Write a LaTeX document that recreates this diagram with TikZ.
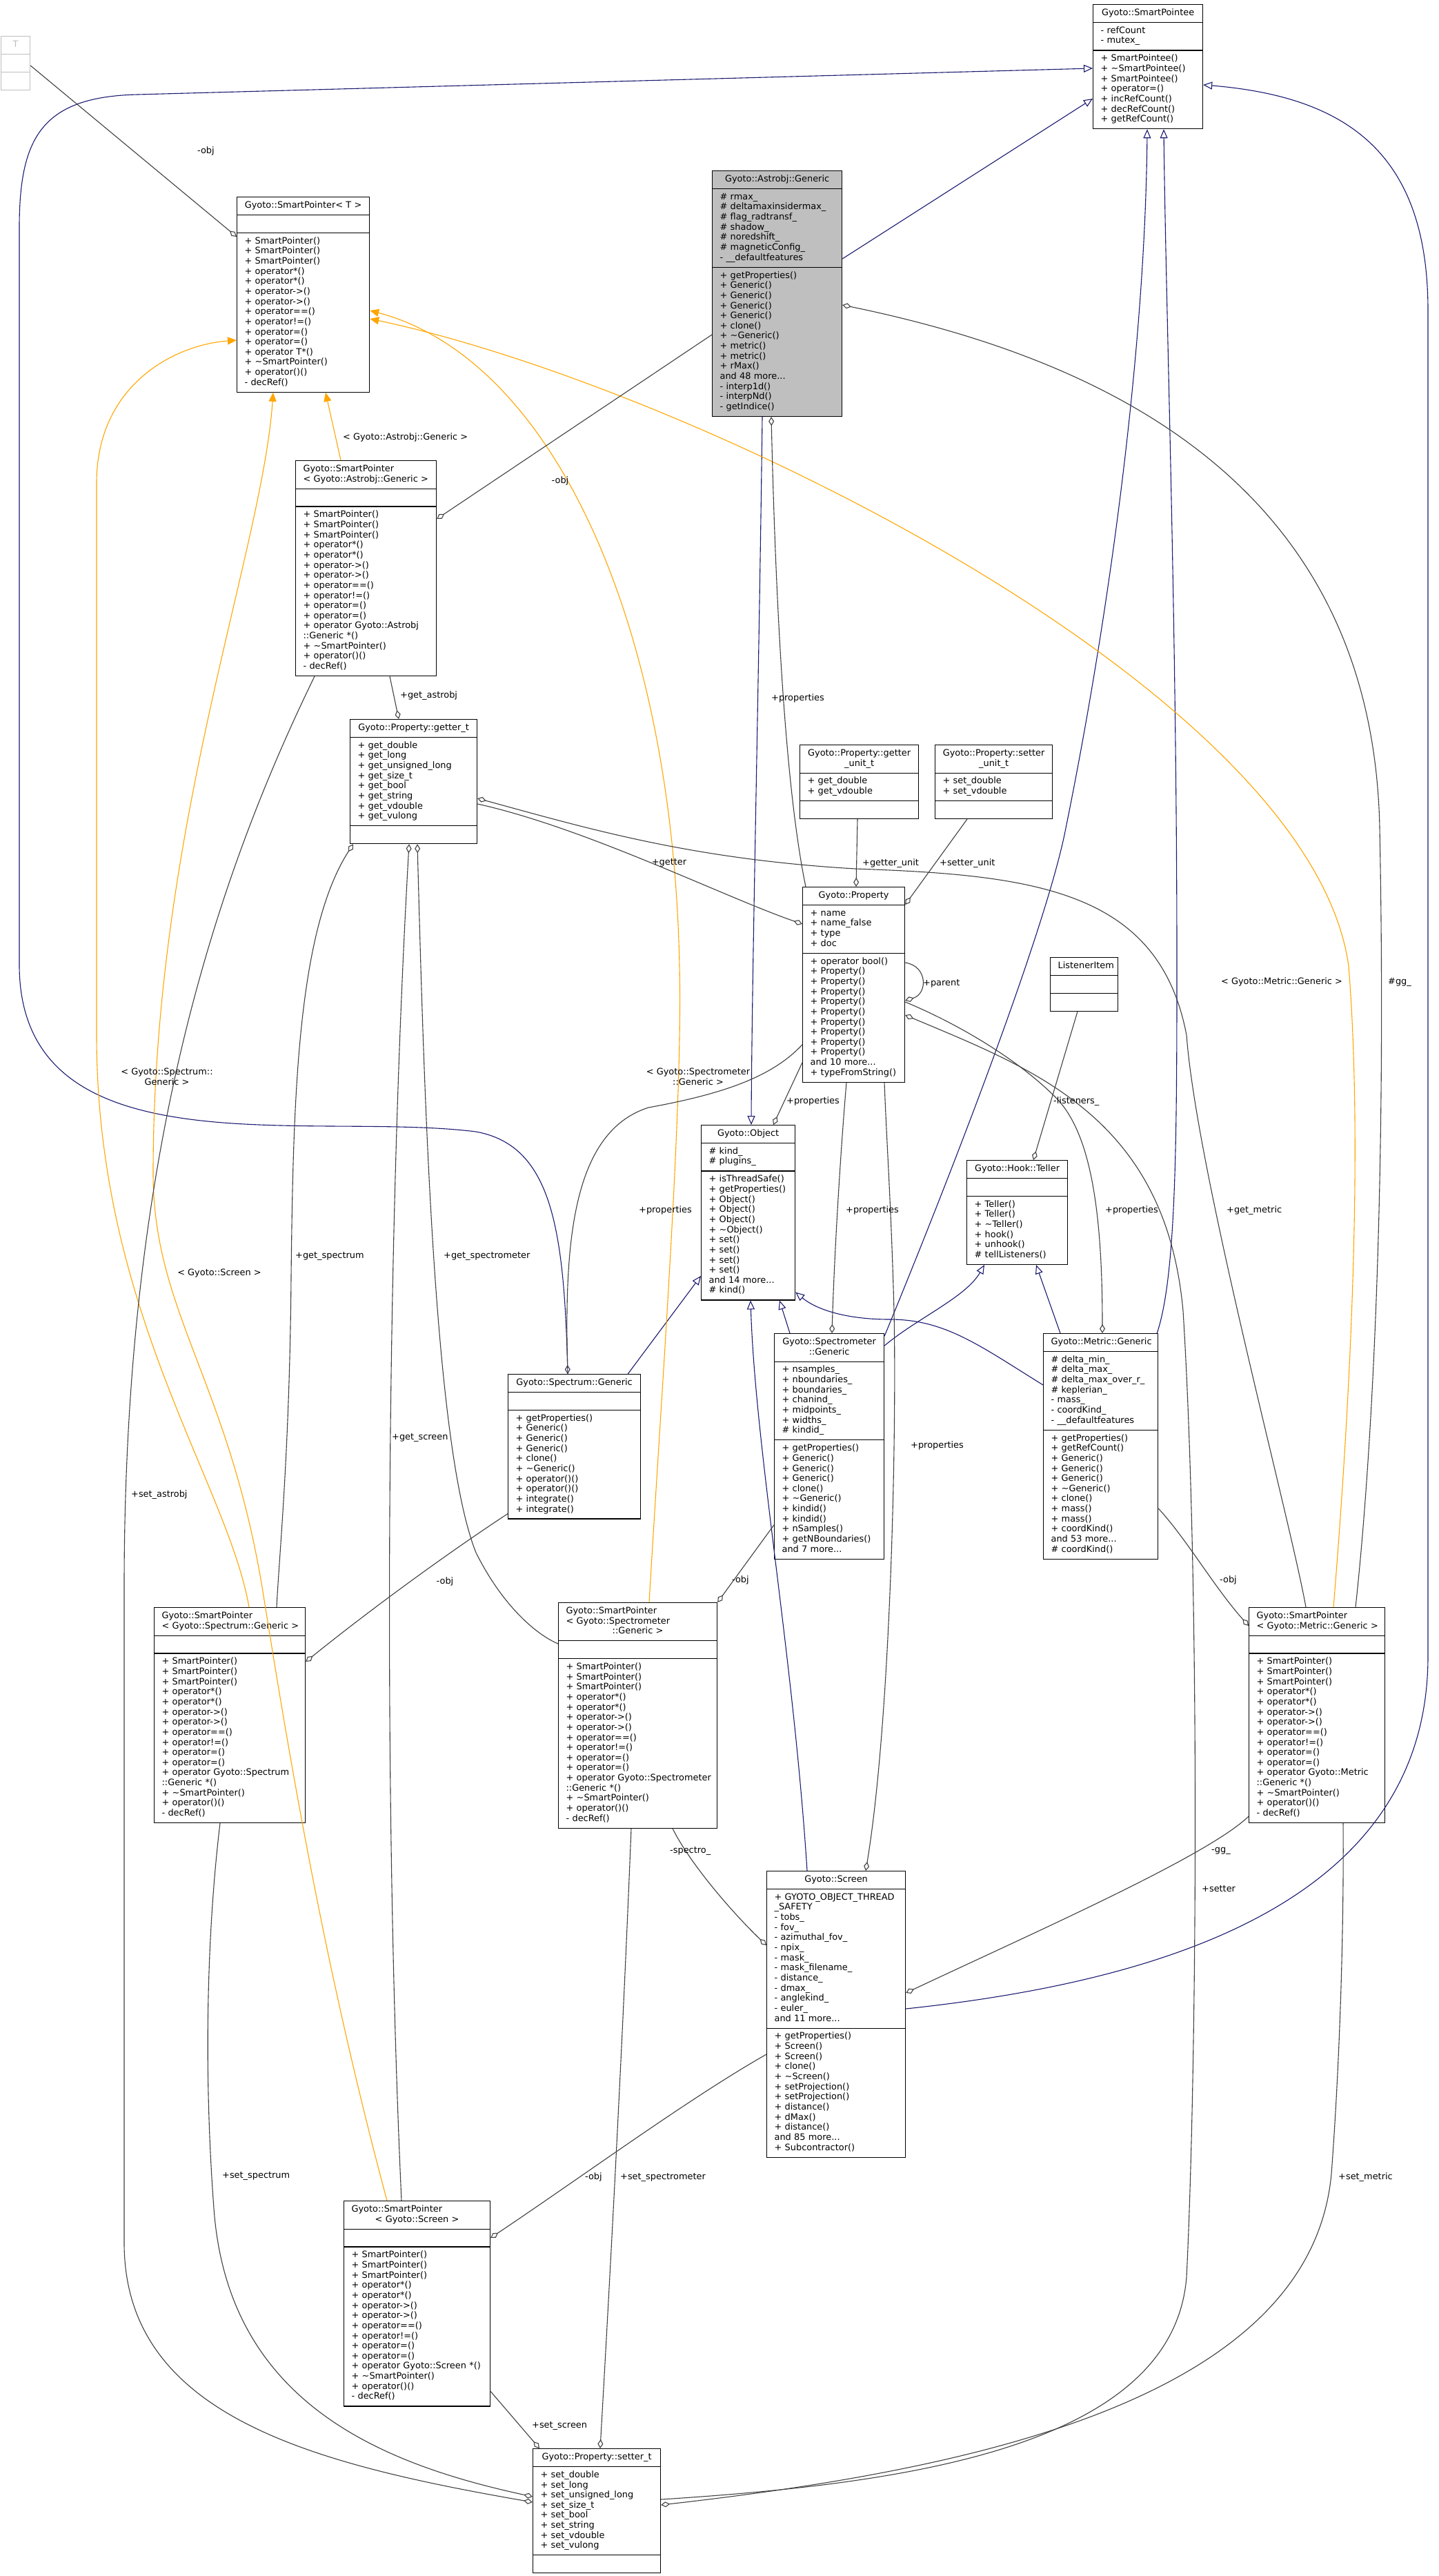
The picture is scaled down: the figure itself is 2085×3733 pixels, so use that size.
\documentclass[tikz,border=0pt]{standalone}
\usepackage{fontspec}
\setmainfont{DejaVu Sans}
\usetikzlibrary{calc, arrows.meta, shapes.multipart}

\definecolor{inhblue}{HTML}{191970}
\definecolor{tplorange}{HTML}{FFA500}
\definecolor{usegray}{HTML}{404040}
\definecolor{hilite}{HTML}{BFBFBF}

\begin{document}
\begin{tikzpicture}[
    x=1pt, y=-1pt,
    cls/.style  = {draw=black, line width=1.2pt, rectangle split, rectangle split parts=3,
                   anchor=north west, inner xsep=11pt, inner ysep=5pt, font=\dxfont},
    inh/.style  = {draw=inhblue, line width=1.1pt, -{Triangle[open, length=13pt, width=11pt]}},
    tmpl/.style = {draw=tplorange, line width=1.1pt, -{Triangle[length=13pt, width=11pt]}},
    agg/.style  = {draw=usegray, line width=1.1pt, {Diamond[open, length=13pt, width=8pt]}-},
    lbl/.style  = {font=\dxfont, inner sep=0pt, anchor=west},
  ]

  % ---------- 参数 ----------
  \def\dxfont{\fontsize{12.9pt}{14.65pt}\selectfont}
  \def\pc{\parindent=0pt\centering}
  \def\pl{\parindent=0pt\raggedright\rightskip=0pt plus 1fil minus 40pt\relax}
  % 类框：选项, 名字, x, y, 宽, 标题, 属性, 方法
  \def\umlcls#1#2#3#4#5#6#7#8{%
    \pgfmathsetmacro{\clsw}{#5-22}%
    \node[cls, text width=\clsw pt, #1] (#2) at (#3,#4)
      {\pc\strut #6\strut\par\nodepart{two}\pl\strut #7\strut\par\nodepart{three}\pl\strut #8\strut\par};}
  \def\spbase{+ SmartPointer()\\+ SmartPointer()\\+ SmartPointer()\\+ operator*()\\+ operator*()\\%
    + operator->()\\+ operator->()\\+ operator==()\\+ operator!=()\\+ operator=()\\+ operator=()}
  \def\sptail{\\+ \textasciitilde SmartPointer()\\+ operator()()\\- decRef()}

  \useasboundingbox (0,0) rectangle (2085,3733);

  % ---------- 类框 ----------
  \umlcls{draw=hilite, text=hilite}{tpl}{1}{52}{42}{T}{}{}
  \umlcls{}{pointee}{1584}{6}{159}{Gyoto::SmartPointee}
    {- refCount\\- mutex\_}
    {+ SmartPointee()\\+ \textasciitilde SmartPointee()\\+ SmartPointee()\\+ operator=()\\+ incRefCount()\\+ decRefCount()\\+ getRefCount()}
  \umlcls{fill=hilite}{astro}{1032}{247}{188}{Gyoto::Astrobj::Generic}
    {\# rmax\_\\\# deltamaxinsidermax\_\\\# flag\_radtransf\_\\\# shadow\_\\\# noredshift\_\\\# magneticConfig\_\\- \_\_defaultfeatures}
    {+ getProperties()\\+ Generic()\\+ Generic()\\+ Generic()\\+ Generic()\\+ clone()\\+ \textasciitilde Generic()\\+ metric()\\+ metric()\\+ rMax()\\and 48 more...\\- interp1d()\\- interpNd()\\- getIndice()}
  \umlcls{}{spT}{343}{285}{192}{Gyoto::SmartPointer< T >}
    {}
    {\spbase\\+ operator T*()\sptail}
  \umlcls{}{spAstro}{428}{667}{204}{\pl Gyoto::SmartPointer\\< Gyoto::Astrobj::Generic >}
    {}
    {\spbase\\+ operator Gyoto::Astrobj\\::Generic *()\sptail}
  \umlcls{}{getter}{507}{1042}{184}{Gyoto::Property::getter\_t}
    {+ get\_double\\+ get\_long\\+ get\_unsigned\_long\\+ get\_size\_t\\+ get\_bool\\+ get\_string\\+ get\_vdouble\\+ get\_vulong}
    {}
  \umlcls{}{gunit}{1159}{1079}{172}{Gyoto::Property::getter\\\_unit\_t}
    {+ get\_double\\+ get\_vdouble}
    {}
  \umlcls{}{sunit}{1355}{1079}{170}{Gyoto::Property::setter\\\_unit\_t}
    {+ set\_double\\+ set\_vdouble}
    {}
  \umlcls{}{prop}{1163}{1285}{148}{Gyoto::Property}
    {+ name\\+ name\_false\\+ type\\+ doc}
    {+ operator bool()\\+ Property()\\+ Property()\\+ Property()\\+ Property()\\+ Property()\\+ Property()\\+ Property()\\+ Property()\\+ Property()\\and 10 more...\\+ typeFromString()}
  \umlcls{}{listener}{1522}{1387}{98}{ListenerItem}{}{}
  \umlcls{}{obj}{1016}{1630}{136}{Gyoto::Object}
    {\# kind\_\\\# plugins\_}
    {+ isThreadSafe()\\+ getProperties()\\+ Object()\\+ Object()\\+ Object()\\+ \textasciitilde Object()\\+ set()\\+ set()\\+ set()\\+ set()\\and 14 more...\\\# kind()}
  \umlcls{}{teller}{1401}{1681}{146}{Gyoto::Hook::Teller}
    {}
    {+ Teller()\\+ Teller()\\+ \textasciitilde Teller()\\+ hook()\\+ unhook()\\\# tellListeners()}
  \umlcls{}{spectrum}{736}{1991}{192}{Gyoto::Spectrum::Generic}
    {}
    {+ getProperties()\\+ Generic()\\+ Generic()\\+ Generic()\\+ clone()\\+ \textasciitilde Generic()\\+ operator()()\\+ operator()()\\+ integrate()\\+ integrate()}
  \umlcls{}{spectro}{1122}{1932}{159}{Gyoto::Spectrometer\\::Generic}
    {+ nsamples\_\\+ nboundaries\_\\+ boundaries\_\\+ chanind\_\\+ midpoints\_\\+ widths\_\\\# kindid\_}
    {+ getProperties()\\+ Generic()\\+ Generic()\\+ Generic()\\+ clone()\\+ \textasciitilde Generic()\\+ kindid()\\+ kindid()\\+ nSamples()\\+ getNBoundaries()\\and 7 more...}
  \umlcls{}{metric}{1512}{1932}{166}{Gyoto::Metric::Generic}
    {\# delta\_min\_\\\# delta\_max\_\\\# delta\_max\_over\_r\_\\\# keplerian\_\\- mass\_\\- coordKind\_\\- \_\_defaultfeatures}
    {+ getProperties()\\+ getRefCount()\\+ Generic()\\+ Generic()\\+ Generic()\\+ \textasciitilde Generic()\\+ clone()\\+ mass()\\+ mass()\\+ coordKind()\\and 53 more...\\\# coordKind()}
  \umlcls{}{spSpectrum}{223}{2329}{219}{\pl Gyoto::SmartPointer\\< Gyoto::Spectrum::Generic >}
    {}
    {\spbase\\+ operator Gyoto::Spectrum\\::Generic *()\sptail}
  \umlcls{}{spSpectro}{809}{2322}{230}{\makebox[\hsize][l]{Gyoto::SmartPointer}\\\makebox[\hsize][l]{< Gyoto::Spectrometer}\\::Generic >}
    {}
    {\spbase\\+ operator Gyoto::Spectrometer\\::Generic *()\sptail}
  \umlcls{}{spMetric}{1810}{2329}{197}{\pl Gyoto::SmartPointer\\< Gyoto::Metric::Generic >}
    {}
    {\spbase\\+ operator Gyoto::Metric\\::Generic *()\sptail}
  \umlcls{}{screen}{1111}{2711}{201}{Gyoto::Screen}
    {+ GYOTO\_OBJECT\_THREAD\\\_SAFETY\\- tobs\_\\- fov\_\\- azimuthal\_fov\_\\- npix\_\\- mask\_\\- mask\_filename\_\\- distance\_\\- dmax\_\\- anglekind\_\\- euler\_\\and 11 more...}
    {+ getProperties()\\+ Screen()\\+ Screen()\\+ clone()\\+ \textasciitilde Screen()\\+ setProjection()\\+ setProjection()\\+ distance()\\+ dMax()\\+ distance()\\and 85 more...\\+ Subcontractor()}
  \umlcls{}{spScreen}{498}{3189}{212}{\makebox[\hsize][l]{Gyoto::SmartPointer}\\< Gyoto::Screen >}
    {}
    {\spbase\\+ operator Gyoto::Screen *()\sptail}
  \umlcls{}{setter}{772}{3548}{185}{Gyoto::Property::setter\_t}
    {+ set\_double\\+ set\_long\\+ set\_unsigned\_long\\+ set\_size\_t\\+ set\_bool\\+ set\_string\\+ set\_vdouble\\+ set\_vulong}
    {}

  % ---------- 继承（蓝） ----------
  \draw[inh] ($(spectrum.north west)+(87,0)$) .. controls (818,1780) and (800,1660) .. (690,1640)
        .. controls (450,1610) and (30,1700) .. (28,1400) -- (28,330)
        .. controls (28,200) and (60,140) .. (200,137) -- ($(pointee.north west)+(0,93)$);
  \draw[inh] ($(spectrum.north east)+(-19,0)$) -- ($(obj.north west)+(0,219)$);
  \draw[inh] ($(spectro.north west)+(23,0)$) -- ($(obj.south west)+(114,0)$);
  \draw[inh] ($(spectro.north east)+(0,18)$) .. controls (1330,1910) and (1400,1880) .. ($(teller.south west)+(26,0)$);
  \draw[inh] ($(spectro.north east)+(0,4)$) .. controls (1400,1650) and (1520,1330) .. (1545,1200)
        .. controls (1610,880) and (1660,500) .. ($(pointee.south west)+(79,0)$);
  \draw[inh] ($(metric.north west)+(0,75)$) .. controls (1420,1950) and (1370,1912) .. (1290,1912)
        .. controls (1220,1912) and (1180,1895) .. ($(obj.south east)+(0,-12)$);
  \draw[inh] ($(metric.north west)+(25,0)$) -- ($(teller.south west)+(101,0)$);
  \draw[inh] ($(metric.north east)+(-2,0)$) .. controls (1705,1850) and (1706,1650) .. (1706,1400)
        .. controls (1706,900) and (1690,450) .. ($(pointee.south west)+(103,0)$);
  \draw[inh] ($(screen.north west)+(59,0)$) .. controls (1150,2400) and (1095,2100) .. ($(obj.south west)+(72,0)$);
  \draw[inh] ($(screen.north east)+(0,200)$) .. controls (1700,2870) and (2070,2750) .. (2070,2400)
        -- (2070,450) .. controls (2070,220) and (1950,140) .. ($(pointee.north east)+(0,117)$);
  \draw[inh] ($(astro.south west)+(73,0)$) .. controls (1100,1000) and (1090,1400) .. ($(obj.north west)+(73,0)$);
  \draw[inh] ($(astro.north east)+(0,128)$) -- ($(pointee.north west)+(0,137)$);

  % ---------- 模板实例（橙） ----------
  \draw[tmpl] ($(spAstro.north west)+(66,0)$) -- ($(spT.south west)+(129,0)$);
  \draw[tmpl] ($(spSpectrum.north west)+(138,0)$) .. controls (330,2150) and (140,1900) .. (140,1500)
        -- (140,700) .. controls (140,560) and (250,500) .. ($(spT.north west)+(0,208)$);
  \draw[tmpl] ($(spScreen.north west)+(63,0)$) .. controls (470,2850) and (420,2550) .. (380,2300)
        .. controls (330,2000) and (222,1900) .. (222,1700)
        .. controls (222,1200) and (380,800) .. ($(spT.south west)+(53,0)$);
  \draw[tmpl] ($(spSpectro.north west)+(132,0)$) .. controls (960,2000) and (990,1600) .. (985,1400)
        .. controls (975,900) and (800,520) .. ($(spT.north east)+(0,165)$);
  \draw[tmpl] ($(spMetric.north west)+(123,0)$) .. controls (1960,2000) and (1975,1650) .. (1955,1400)
        .. controls (1900,1000) and (1000,560) .. ($(spT.north east)+(0,177)$);

  % ---------- 成员（灰，菱形在容器一端） ----------
  \draw[agg] ($(spT.north west)+(0,58)$) -- ($(tpl.north east)+(0,43)$);
  \draw[agg] ($(spAstro.north east)+(0,85)$) -- ($(astro.north west)+(0,238)$);
  \draw[agg] ($(getter.north west)+(71,0)$) -- ($(spAstro.south west)+(137,0)$);
  \draw[agg] ($(setter.north west)+(0,78)$) .. controls (450,3570) and (180,3500) .. (180,3250)
        -- (180,2300) .. controls (180,1700) and (300,1300) .. ($(spAstro.south west)+(28,0)$);
  \draw[agg] ($(prop.north west)+(0,54)$) .. controls (1050,1300) and (850,1200) .. ($(getter.north east)+(0,123)$);
  \draw[agg] ($(getter.north east)+(0,115)$) .. controls (850,1200) and (1000,1245) .. (1240,1259)
        .. controls (1500,1268) and (1680,1290) .. (1720,1500)
        .. controls (1735,1700) and (1870,2200) .. ($(spMetric.north west)+(83,0)$);
  \draw[agg] ($(prop.north west)+(78,0)$) -- ($(gunit.south west)+(84,0)$);
  \draw[agg] ($(prop.north east)+(0,26)$) -- ($(sunit.south west)+(47,0)$);
  \draw[agg] ($(prop.north east)+(0,165)$) .. controls (1345,1440) and (1345,1400) .. ($(prop.north east)+(0,110)$);
  \draw[agg] ($(teller.north west)+(97,0)$) -- ($(listener.south west)+(40,0)$);
  \draw[agg] ($(obj.north west)+(105,0)$) -- ($(prop.south west)+(0,-29)$);
  \draw[agg] ($(spectrum.north west)+(87,0)$) .. controls (818,1800) and (830,1640) .. (940,1605)
        .. controls (1050,1585) and (1120,1560) .. ($(prop.south west)+(0,-55)$);
  \draw[agg] ($(spectro.north west)+(84,0)$) .. controls (1210,1800) and (1220,1650) .. ($(prop.south west)+(64,0)$);
  \draw[agg] ($(metric.north west)+(86,0)$) .. controls (1598,1750) and (1580,1640) .. (1530,1590)
        .. controls (1470,1530) and (1380,1480) .. ($(prop.north east)+(0,167)$);
  \draw[agg] ($(screen.north west)+(144,0)$) .. controls (1290,2500) and (1300,2100) .. (1296,1900)
        .. controls (1292,1750) and (1285,1650) .. ($(prop.south west)+(119,0)$);
  \draw[agg] ($(astro.south west)+(86,0)$) .. controls (1125,900) and (1140,1150) .. ($(prop.north west)+(5,0)$);
  \draw[agg] ($(spSpectrum.north east)+(0,79)$) .. controls (540,2330) and (650,2250) .. ($(spectrum.south west)+(0,-8)$);
  \draw[agg] ($(getter.south west)+(5,0)$) .. controls (430,1350) and (425,1600) .. (422,1850)
        .. controls (420,2100) and (405,2250) .. ($(spSpectrum.north west)+(178,0)$);
  \draw[agg] ($(setter.north west)+(0,70)$) .. controls (550,3570) and (330,3480) .. (310,3200)
        .. controls (295,3000) and (300,2800) .. ($(spSpectrum.south west)+(96,0)$);
  \draw[agg] ($(getter.south west)+(98,0)$) .. controls (615,1600) and (630,2100) .. (690,2250)
        .. controls (730,2330) and (780,2370) .. ($(spSpectro.north west)+(0,60)$);
  \draw[agg] ($(getter.south west)+(86,0)$) .. controls (560,1800) and (555,2600) .. ($(spScreen.north west)+(84,0)$);
  \draw[agg] ($(setter.north west)+(98,0)$) .. controls (890,3200) and (905,2900) .. ($(spSpectro.south west)+(106,0)$);
  \draw[agg] ($(setter.north west)+(10,0)$) -- ($(spScreen.south east)+(0,-22)$);
  \draw[agg] (spSpectro.north east) -- ($(spectro.south west)+(0,-50)$);
  \draw[agg] ($(screen.north west)+(0,108)$) .. controls (1060,2770) and (1000,2700) .. ($(spSpectro.south west)+(166,0)$);
  \draw[agg] ($(spScreen.north east)+(0,54)$) .. controls (850,3150) and (1000,3040) .. ($(screen.north west)+(0,266)$);
  \draw[agg] ($(spMetric.north west)+(0,27)$) .. controls (1760,2300) and (1720,2230) .. ($(metric.north east)+(0,254)$);
  \draw[agg] ($(screen.north east)+(0,177)$) .. controls (1500,2800) and (1750,2690) .. ($(spMetric.south west)+(0,-10)$);
  \draw[agg] ($(setter.north east)+(0,82)$) .. controls (1400,3580) and (1900,3480) .. (1930,3150)
        .. controls (1945,2950) and (1948,2750) .. ($(spMetric.south west)+(137,0)$);
  \draw[agg] ($(prop.north east)+(0,186)$) .. controls (1500,1550) and (1690,1620) .. (1715,1900)
        .. controls (1740,2300) and (1735,3000) .. (1720,3300)
        .. controls (1700,3550) and (1300,3600) .. ($(setter.north east)+(0,74)$);
  \draw[agg] ($(astro.north east)+(0,195)$) .. controls (1600,520) and (1990,700) .. (2000,1200)
        .. controls (2010,1700) and (1990,2100) .. ($(spMetric.north west)+(155,0)$);

  % ---------- 边标签 ----------
  \node[lbl] (lTobj)     at (286,219)  {-obj};
  \node[lbl] (lAstroTpl) at (497,634)  {< Gyoto::Astrobj::Generic >};
  \node[lbl, anchor=center, align=center] (lSpecTpl)   at (242,1560) {< Gyoto::Spectrum::\\Generic >};
  \node[lbl, anchor=center, align=center] (lSpecroTpl) at (1012,1560) {< Gyoto::Spectrometer\\::Generic >};
  \node[lbl, anchor=center] (lScreenTpl) at (318,1845) {< Gyoto::Screen >};
  \node[lbl, anchor=center] (lMetricTpl) at (1858,1423) {< Gyoto::Metric::Generic >};
  \node[lbl, anchor=center] (lAstroObj)  at (812,697) {-obj};
  \node[lbl] (lGetAstro)  at (580,1008)  {+get\_astrobj};
  \node[lbl] (lSetAstro)  at (190,2166)  {+set\_astrobj};
  \node[lbl, anchor=center] (lGetter) at (970,1250) {+getter};
  \node[lbl] (lGetMetric) at (1778,1754) {+get\_metric};
  \node[lbl] (lGUnit)     at (1250,1251) {+getter\_unit};
  \node[lbl] (lSUnit)     at (1362,1251) {+setter\_unit};
  \node[lbl] (lParent)    at (1338,1425) {+parent};
  \node[lbl] (lListen)    at (1527,1596) {-listeners\_};
  \node[lbl] (lPropObj)   at (1140,1596) {+properties};
  \node[lbl] (lPropSpec)  at (926,1754)  {+properties};
  \node[lbl] (lPropSpro)  at (1226,1754) {+properties};
  \node[lbl] (lPropMet)   at (1602,1754) {+properties};
  \node[lbl] (lPropScr)   at (1320,2095) {+properties};
  \node[lbl] (lPropAst)   at (1118,1012) {+properties};
  \node[lbl, anchor=center] (lSpecObj) at (645,2292) {-obj};
  \node[lbl] (lGetSpec)   at (428,1820)  {+get\_spectrum};
  \node[lbl] (lSetSpec)   at (322,3153)  {+set\_spectrum};
  \node[lbl] (lGetSpro)   at (643,1820)  {+get\_spectrometer};
  \node[lbl] (lGetScr)    at (568,2083)  {+get\_screen};
  \node[lbl] (lSetSpro)   at (899,3155)  {+set\_spectrometer};
  \node[lbl] (lSetScr)    at (771,3515)  {+set\_screen};
  \node[lbl] (lSproObj)   at (1061,2290) {-obj};
  \node[lbl] (lSpectro)   at (971,2682)  {-spectro\_};
  \node[lbl] (lScrObj)    at (848,3155)  {-obj};
  \node[lbl] (lMetObj)    at (1768,2290) {-obj};
  \node[lbl] (lGg)        at (1756,2682) {-gg\_};
  \node[lbl] (lSetMet)    at (1940,3155) {+set\_metric};
  \node[lbl] (lSetter)    at (1742,2737) {+setter};
  \node[lbl] (lAstGg)     at (2012,1423) {\#gg\_};

\end{tikzpicture}
\end{document}
